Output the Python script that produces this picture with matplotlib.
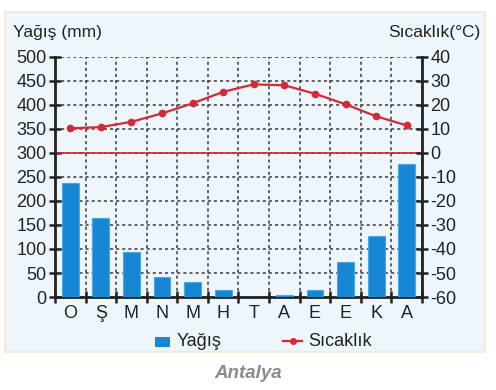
import numpy as np
import matplotlib.pyplot as plt
from matplotlib.patches import Rectangle

plt.rcParams['font.family'] = ['Liberation Sans', 'DejaVu Sans']
plt.rcParams['axes.unicode_minus'] = False

months = ["O", "Ş", "M", "N", "M", "H", "T", "A", "E", "E", "K", "A"]
rain = [238, 165, 93, 41, 31, 15, 0, 4, 15, 72, 128, 278]
temp = [10.3, 10.8, 13.0, 16.5, 20.7, 25.5, 28.6, 28.2, 24.7, 20.3, 15.3, 11.5]

W, H = 496, 390
fig = plt.figure(figsize=(W / 100, H / 100), dpi=100)
fig.patch.set_facecolor("white")

# background layer in pixel coords (y from top)
bg = fig.add_axes([0, 0, 1, 1], zorder=-1)
bg.set_xlim(0, W)
bg.set_ylim(H, 0)
bg.axis("off")
bg.add_patch(Rectangle((5, 12), 480, 340, facecolor="#eef6fc",
                       edgecolor="#f6e6d8", linewidth=1.2))

ax = fig.add_axes([55 / W, 1 - 297 / H, 367 / W, 240 / H])
ax.set_facecolor("none")
x = np.arange(len(months))

ax.bar(x, rain, width=0.55, color="#1787d3", edgecolor="#4aa8e6", linewidth=0.8, zorder=3)

ax.set_xlim(-0.5, 11.5)
ax.set_ylim(0, 500)
ax.set_yticks(np.arange(0, 501, 50))
ax.set_xticks(np.arange(-0.5, 12, 1))
ax.set_xticklabels([])
ax.set_xticks(x, minor=True)
ax.set_xticklabels(months, minor=True)
ax.tick_params(axis="x", which="minor", length=0, pad=6, labelsize=13, colors="#222222")
ax.tick_params(axis="x", which="major", direction="inout", length=8, width=1.8, color="#222222")
ax.tick_params(axis="y", direction="inout", length=8, width=1.8, labelsize=13,
               colors="#222222", pad=2)
ax.grid(True, which="major", color="#3a3a3a", linestyle=(0, (2, 2)), linewidth=1.1, zorder=1)
ax.axhline(300, color="#d22630", linewidth=1.2, zorder=2)

ax.spines["top"].set_visible(False)
ax.spines["right"].set_visible(False)
ax.spines["left"].set_linewidth(2)
ax.spines["bottom"].set_linewidth(2)
ax.spines["left"].set_color("#222222")
ax.spines["bottom"].set_color("#222222")

ax2 = ax.twinx()
ax2.set_ylim(-60, 40)
ax2.set_yticks(np.arange(-60, 41, 10))
ax2.plot(x, temp, color="#d42a35", linewidth=1.6, marker="o", markersize=4.5, zorder=4)
ax2.tick_params(axis="y", direction="inout", length=8, width=1.8, labelsize=13,
                colors="#222222", pad=2)
ax2.spines["right"].set_linewidth(2)
ax2.spines["right"].set_color("#222222")
for s in ["top", "left", "bottom"]:
    ax2.spines[s].set_visible(False)

bg.text(13, 32, "Yağış (mm)", fontsize=12.5, color="#222222", va="center", ha="left")
bg.text(480, 32, "Sıcaklık(°C)", fontsize=12.5, color="#222222", va="center", ha="right")

# legend
bg.add_patch(Rectangle((155, 337), 15, 10, facecolor="#1787d3"))
bg.text(177, 342, "Yağış", fontsize=13, color="#222222", va="center")
bg.plot([283, 302], [341, 341], color="#d42a35", linewidth=1.6)
bg.plot([292.5], [341], color="#d42a35", marker="o", markersize=4)
bg.text(308, 342, "Sıcaklık", fontsize=13, color="#222222", va="center")

bg.text(248, 373, "Antalya", fontsize=13.5, color="#8c8c8c",
        style="italic", weight="bold", ha="center", va="center")

plt.savefig("out.png", dpi=100)
plt.close()
